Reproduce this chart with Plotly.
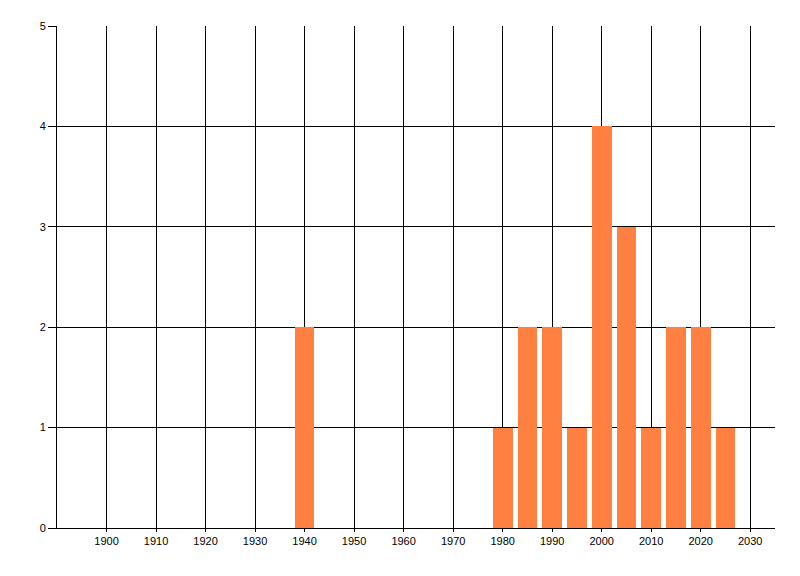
import plotly.graph_objects as go

years = [1940, 1980, 1985, 1990, 1995, 2000, 2005, 2010, 2015, 2020, 2025]
counts = [2, 1, 2, 2, 1, 4, 3, 1, 2, 2, 1]
x_ticks = list(range(1900, 2031, 10))
y_ticks = [0, 1, 2, 3, 4, 5]

fig = go.Figure()
fig.add_trace(go.Bar(
    x=years, y=counts, width=4,
    marker=dict(color="#FF8040", line=dict(width=0)),
))

fig.update_layout(
    width=800, height=576,
    margin=dict(l=49, r=33, t=18, b=56),
    plot_bgcolor="white", paper_bgcolor="white",
    showlegend=False,
    font=dict(family="Liberation Sans, Arial, sans-serif", size=11, color="black"),
    bargap=0,
)
fig.update_xaxes(
    range=[1890, 2035], tickvals=x_ticks, ticktext=[str(v) for v in x_ticks],
    showgrid=True, gridcolor="black", gridwidth=1,
    showline=True, linecolor="black", linewidth=1,
    ticks="outside", ticklen=3, tickcolor="black",
    zeroline=False,
)
fig.update_yaxes(
    range=[0, 5], tickvals=y_ticks,
    showgrid=True, gridcolor="black", gridwidth=1,
    showline=True, linecolor="black", linewidth=1,
    ticks="outside", ticklen=8, tickcolor="black",
    zeroline=False,
)

fig.write_html("out.html")
